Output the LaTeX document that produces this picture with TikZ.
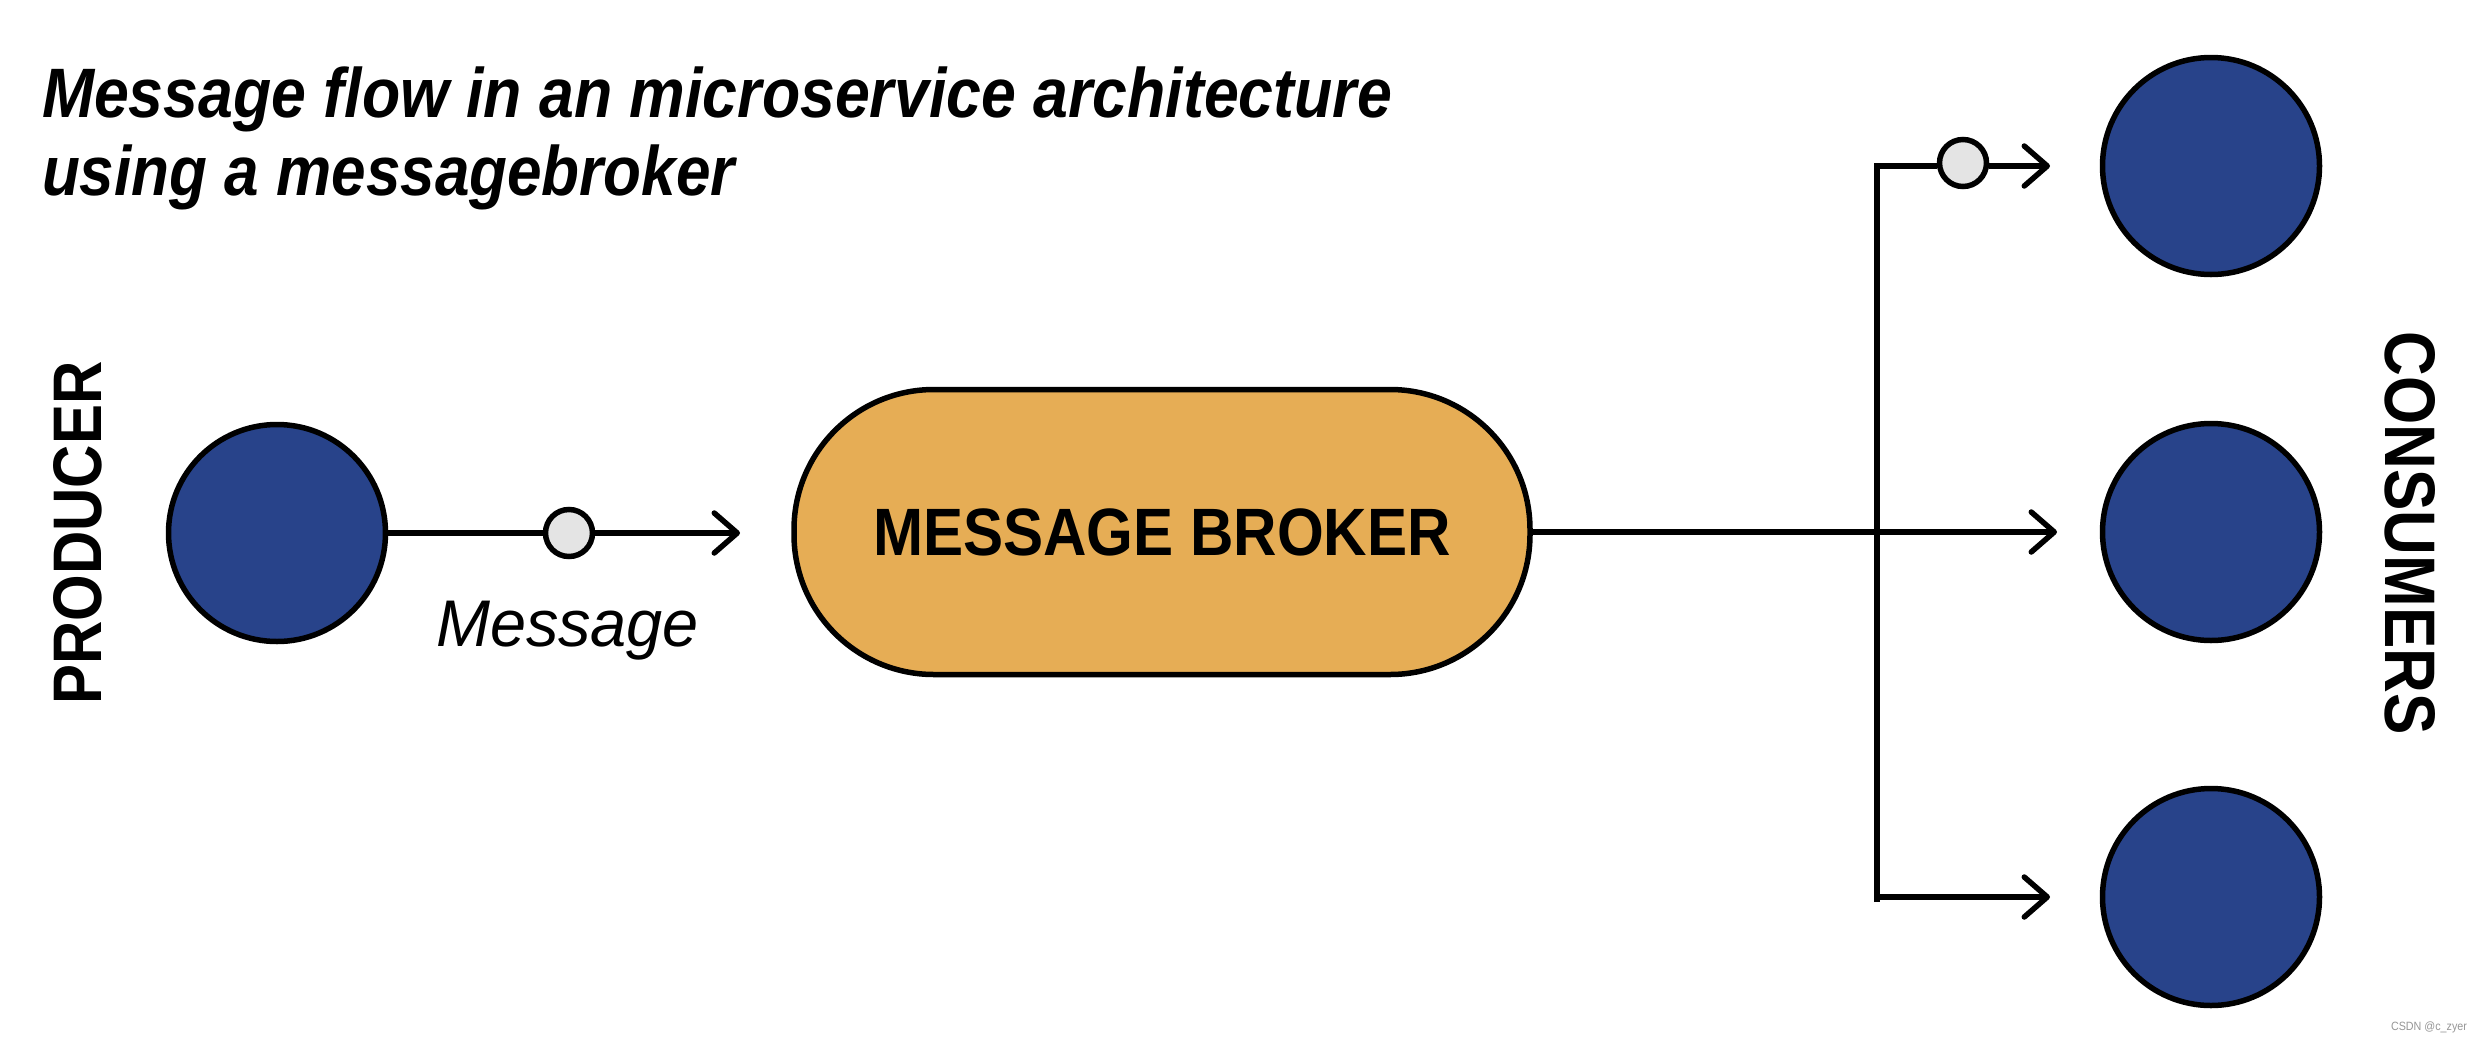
\documentclass[tikz,border=0pt]{standalone}
\usepackage{fontspec}
\setmainfont{Liberation Sans}
\usepackage{graphicx}
\usetikzlibrary{arrows.meta}
\definecolor{nodeblue}{RGB}{40,67,138}
\definecolor{brokerorange}{RGB}{230,173,85}
\definecolor{msggray}{RGB}{228,228,228}
\definecolor{wmgray}{RGB}{150,150,150}
\begin{document}
\begin{tikzpicture}[x=1pt,y=-1pt,
  svc/.style={circle,draw=black,line width=5.5pt,fill=nodeblue,minimum size=217pt,inner sep=0pt},
  msg/.style={circle,draw=black,line width=5.5pt,fill=msggray,minimum size=47pt,inner sep=0pt},
  conn/.style={line width=5.5pt},
  arr/.style={conn,-{Straight Barb[length=23pt,width=40pt,line width=5.5pt,round]}},
  txt/.style={inner sep=0pt,outer sep=0pt}]
\useasboundingbox (0,0) rectangle (2482,1042);
% title
\node[txt,anchor=base west] (t1) at (42,117) {\resizebox{1350pt}{\height}{\fontsize{70}{84}\selectfont\bfseries\itshape Message flow in an microservice architecture}};
\node[txt,anchor=base west] (t2) at (42,195) {\resizebox{693pt}{\height}{\fontsize{70}{84}\selectfont\bfseries\itshape using a messagebroker}};
% side labels
\node[txt,rotate=90] (plabel) at (78,533) {\resizebox{343pt}{48pt}{\fontsize{70}{84}\selectfont\bfseries PRODUCER}};
\node[txt,rotate=-90] (clabel) at (2410,533) {\resizebox{403pt}{50pt}{\fontsize{70}{84}\selectfont\bfseries CONSUMERS}};
% nodes
\node[svc] (prod) at (277,533) {};
\node[msg] (m1) at (569,533) {};
\node[txt,anchor=base west] (mlabel) at (436,646) {\resizebox{263pt}{\height}{\fontsize{66}{80}\selectfont\itshape Message}};
\node[draw=black,line width=5.5pt,fill=brokerorange,rounded corners=140pt,minimum width=736pt,minimum height=285pt,inner sep=0pt] (broker) at (1162,532) {\resizebox{578pt}{\height}{\fontsize{67}{80}\selectfont\bfseries MESSAGE BROKER}};
\node[svc] (c1) at (2211,166) {};
\node[svc] (c2) at (2211,532) {};
\node[svc] (c3) at (2211,897) {};
\node[msg] (m2) at (1963,163) {};
% coordinates
\coordinate (a1) at (740,533);
\coordinate (jtop) at (1877,166);
\coordinate (jbot) at (1877,902);
\coordinate (jbotr) at (1877,897);
\coordinate (tip1) at (2050,166);
\coordinate (tip2) at (2057,532);
\coordinate (tip3) at (2050,897);
% connectors
\draw[conn] (prod.east) -- (m1.west);
\draw[arr] (m1.east) -- (a1);
\draw[arr] (broker.east) -- (tip2);
\draw[conn] (jbot) -- (jtop) -- (jtop -| m2.west);
\draw[arr] (jtop -| m2.east) -- (tip1);
\draw[arr] (jbotr) -- (tip3);
% watermark
\node[txt,anchor=base west,text=wmgray] (wm) at (2391,1030) {\resizebox{76pt}{\height}{\fontsize{12}{14}\selectfont CSDN @c\_zyer}};
\end{tikzpicture}
\end{document}
